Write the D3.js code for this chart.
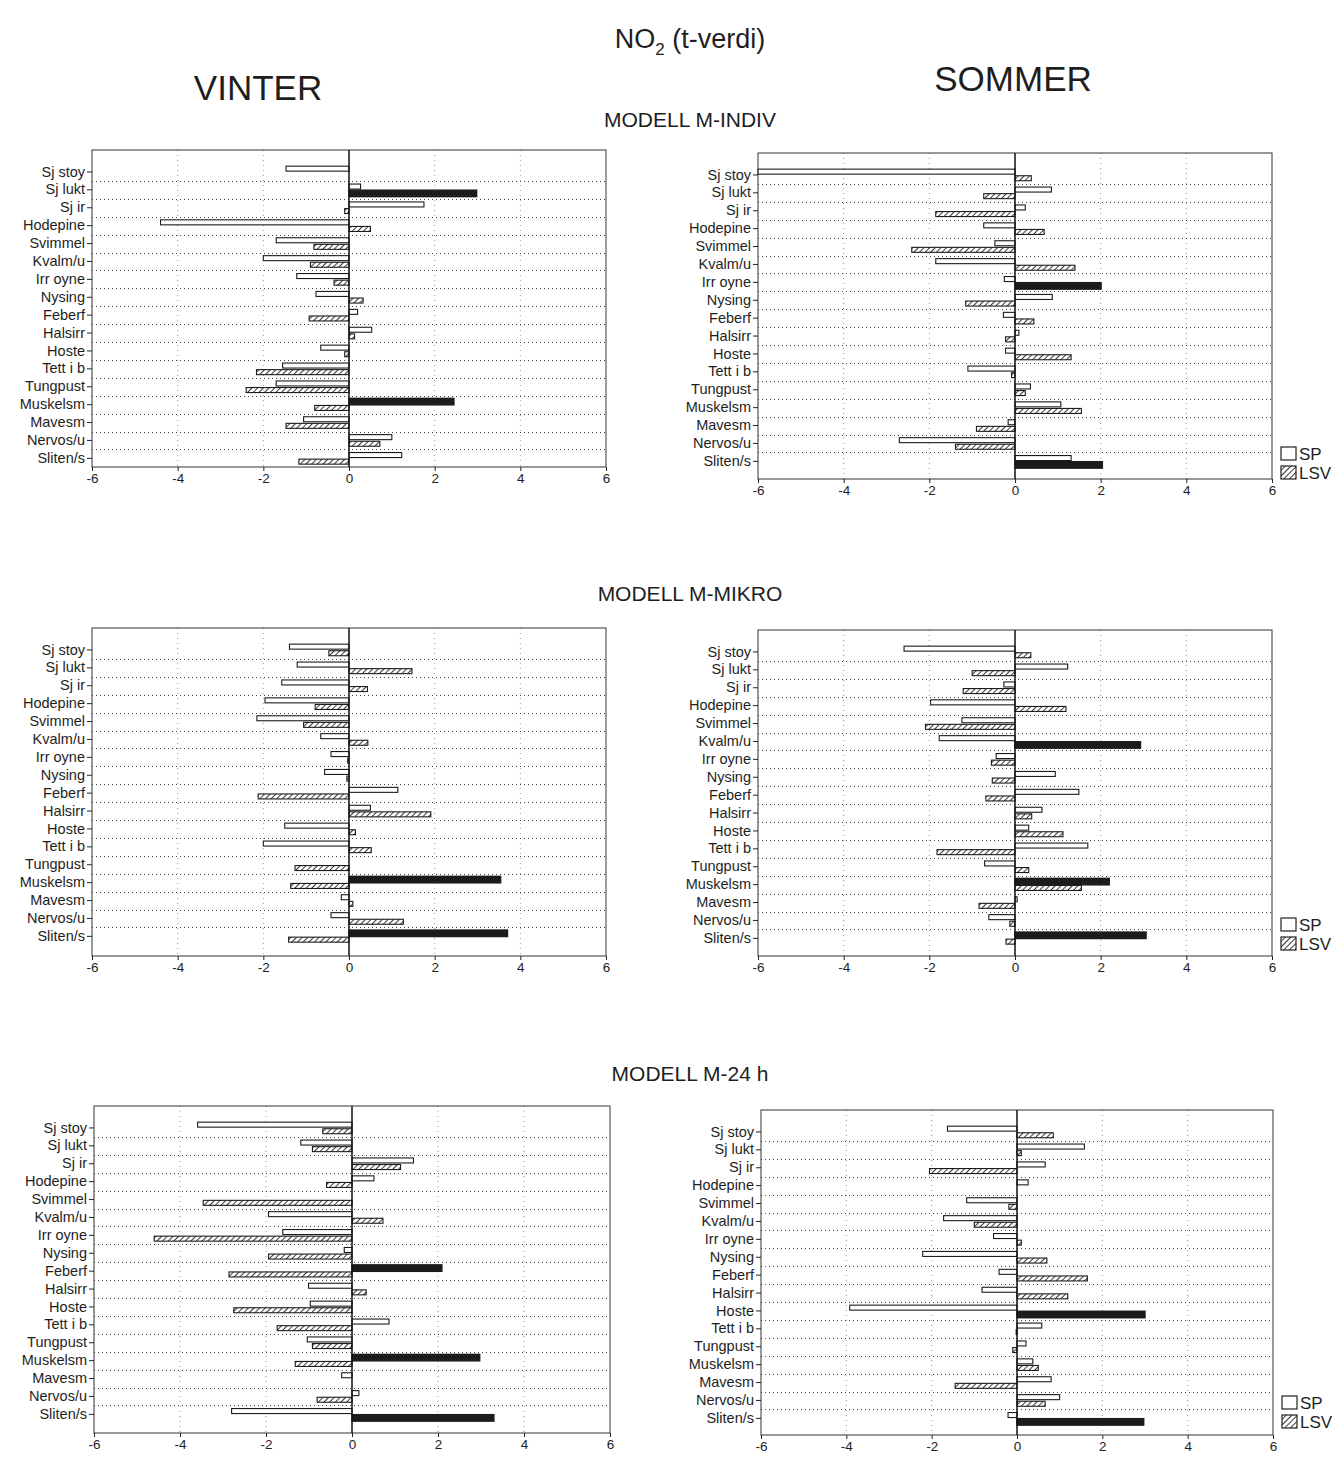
<!DOCTYPE html>
<html>
<head>
<meta charset="utf-8">
<script src="https://cdn.jsdelivr.net/npm/d3@7/dist/d3.min.js"></script>
<style>
  body { margin: 0; background: #fff; }
  svg { display: block; }
  text { font-family: "Liberation Sans", Arial, sans-serif; fill: #1e1e1e; }
</style>
</head>
<body>
<svg id="chart" width="1342" height="1458"></svg>
<script>
// Symptom categories (y axis), top to bottom
const categories = ["Sj stoy", "Sj lukt", "Sj ir", "Hodepine", "Svimmel", "Kvalm/u", "Irr oyne",
  "Nysing", "Feberf", "Halsirr", "Hoste", "Tett i b", "Tungpust", "Muskelsm", "Mavesm",
  "Nervos/u", "Sliten/s"];
const tickValues = [-6, -4, -2, 0, 2, 4, 6];
const seriesNames = ["SP", "LSV"];
const significance = 1.96;

// t-values, model M-INDIV
const vinterIndivSP  = [-1.47, 0.27, 1.75, -4.40, -1.70, -2.00, -1.22, -0.77, 0.20, 0.53, -0.66, -1.55, -1.70, 2.45, -1.06, 1.00, 1.23];
const vinterIndivLSV = [0.00, 2.98, -0.10, 0.50, -0.82, -0.90, -0.35, 0.33, -0.93, 0.13, -0.10, -2.16, -2.40, -0.80, -1.47, 0.72, -1.17];
const sommerIndivSP  = [-6.00, 0.85, 0.24, -0.73, -0.47, -1.85, -0.25, 0.87, -0.27, 0.09, -0.22, -1.10, 0.36, 1.07, -0.16, -2.70, 1.31];
const sommerIndivLSV = [0.38, -0.73, -1.85, 0.68, -2.41, 1.40, 2.01, -1.15, 0.44, -0.22, 1.31, -0.08, 0.24, 1.55, -0.90, -1.39, 2.04];

// t-values, model M-MIKRO
const vinterMikroSP  = [-1.39, -1.21, -1.57, -1.96, -2.15, -0.66, -0.42, -0.57, 1.14, 0.50, -1.50, -2.00, 0.00, 3.54, -0.18, -0.42, 3.70];
const vinterMikroLSV = [-0.47, 1.47, 0.43, -0.79, -1.06, 0.44, -0.03, -0.05, -2.12, 1.91, 0.15, 0.52, -1.26, -1.36, 0.09, 1.27, -1.41];
const sommerMikroSP  = [-2.59, 1.23, -0.26, -1.97, -1.24, -1.77, -0.44, 0.94, 1.49, 0.63, 0.32, 1.70, -0.71, 2.20, 0.05, -0.61, 3.06];
const sommerMikroLSV = [0.37, -1.00, -1.21, 1.19, -2.09, 2.93, -0.55, -0.53, -0.68, 0.39, 1.12, -1.82, 0.32, 1.55, -0.84, -0.12, -0.21];

// t-values, model M-24 h
const vinter24hSP  = [-3.59, -1.19, 1.43, 0.51, 0.00, -1.94, -1.61, -0.18, 2.09, -1.01, -0.97, 0.86, -1.04, 2.97, -0.24, 0.16, -2.80];
const vinter24hLSV = [-0.68, -0.92, 1.13, -0.59, -3.46, 0.72, -4.60, -1.94, -2.86, 0.33, -2.75, -1.74, -0.92, -1.32, 0.00, -0.81, 3.30];
const sommer24hSP  = [-1.63, 1.58, 0.66, 0.26, -1.18, -1.72, -0.55, -2.21, -0.42, -0.82, -3.92, 0.58, 0.21, 0.37, 0.80, 1.00, -0.21];
const sommer24hLSV = [0.85, 0.10, -2.05, 0.00, -0.19, -1.00, 0.10, 0.70, 1.65, 1.19, 3.00, -0.02, -0.10, 0.50, -1.45, 0.66, 2.97];

const svg = d3.select("#chart");
const defs = svg.append("defs");
defs.append("pattern")
    .attr("id", "hatch")
    .attr("patternUnits", "userSpaceOnUse")
    .attr("width", 4).attr("height", 4)
    .attr("patternTransform", "rotate(45)")
  .append("line")
    .attr("x1", 0).attr("y1", 0).attr("x2", 0).attr("y2", 4)
    .attr("stroke", "#222").attr("stroke-width", 1.8);

// Headings
const title = svg.append("text").attr("x", 690).attr("y", 48)
  .attr("text-anchor", "middle").style("font-size", "27px");
title.append("tspan").text("NO");
title.append("tspan").attr("dy", 7).style("font-size", "17px").text("2");
title.append("tspan").attr("dy", -7).text(" (t-verdi)");

svg.append("text").attr("x", 258).attr("y", 100).attr("text-anchor", "middle")
  .style("font-size", "35px").text("VINTER");
svg.append("text").attr("x", 1013).attr("y", 91).attr("text-anchor", "middle")
  .style("font-size", "35px").text("SOMMER");

const models = [
  { name: "MODELL M-INDIV", y: 127 },
  { name: "MODELL M-MIKRO", y: 601 },
  { name: "MODELL M-24 h",  y: 1081 }
];
models.forEach(m => svg.append("text").attr("x", 690).attr("y", m.y)
  .attr("text-anchor", "middle").style("font-size", "21px").text(m.name));

// Panel frames
const panels = [
  { sp: vinterIndivSP, lsv: vinterIndivLSV, x0: 92,  x1: 606,  top: 150,  bottom: 467 },
  { sp: sommerIndivSP, lsv: sommerIndivLSV, x0: 758, x1: 1272, top: 153,  bottom: 479, legendY: 447 },
  { sp: vinterMikroSP, lsv: vinterMikroLSV, x0: 92,  x1: 606,  top: 628,  bottom: 956 },
  { sp: sommerMikroSP, lsv: sommerMikroLSV, x0: 758, x1: 1272, top: 630,  bottom: 956, legendY: 918 },
  { sp: vinter24hSP,   lsv: vinter24hLSV,   x0: 94,  x1: 610,  top: 1106, bottom: 1433 },
  { sp: sommer24hSP,   lsv: sommer24hLSV,   x0: 761, x1: 1273, top: 1110, bottom: 1435, legendY: 1396 }
];

const step = 17.9;
const padTop = 13;

panels.forEach(p => {
  const g = svg.append("g");
  const x = d3.scaleLinear().domain([-6, 6]).range([p.x0, p.x1]);
  const y = d3.scaleBand().domain(categories)
    .range([p.top + padTop, p.top + padTop + step * categories.length]);
  const bottom = p.bottom;

  // vertical grid
  g.append("g").selectAll("line").data(tickValues.filter(t => t !== 0 && Math.abs(t) !== 6))
    .join("line")
    .attr("x1", d => x(d)).attr("x2", d => x(d))
    .attr("y1", p.top).attr("y2", bottom)
    .attr("stroke", "#9a9a9a").attr("stroke-width", 1).attr("stroke-dasharray", "1,4");

  // horizontal grid between categories
  g.append("g").selectAll("line").data(categories.slice(1))
    .join("line")
    .attr("x1", p.x0).attr("x2", p.x1)
    .attr("y1", d => Math.round(y(d)) + 0.5).attr("y2", d => Math.round(y(d)) + 0.5)
    .attr("stroke", "#444").attr("stroke-width", 1).attr("stroke-dasharray", "1,3");

  // frame
  g.append("rect").attr("x", p.x0).attr("y", p.top)
    .attr("width", p.x1 - p.x0).attr("height", bottom - p.top)
    .attr("fill", "none").attr("stroke", "#333").attr("stroke-width", 1);

  // bars
  const rows = categories.map((c, i) => ({ c, sp: p.sp[i], lsv: p.lsv[i] }));
  const barH = 5;
  const drawBars = (key, offset, baseFill) => {
    g.append("g").selectAll("rect").data(rows.filter(r => r[key] !== 0))
      .join("rect")
      .attr("x", d => x(Math.min(0, d[key])))
      .attr("width", d => Math.max(1, Math.abs(x(d[key]) - x(0))))
      .attr("y", d => {
        const strong = d[key] >= significance;
        return y(d.c) + y.bandwidth() / 2 + offset - (strong ? 0.5 : 0);
      })
      .attr("height", d => d[key] >= significance ? barH + 1.5 : barH)
      .attr("fill", d => d[key] >= significance ? "#1c1c1c" : baseFill)
      .attr("stroke", "#1c1c1c")
      .attr("stroke-width", d => d[key] >= significance ? 1.4 : 1.1);
  };
  drawBars("sp", -barH - 0.8, "#fff");
  drawBars("lsv", 0.8, "url(#hatch)");

  // zero line
  g.append("line").attr("x1", x(0)).attr("x2", x(0))
    .attr("y1", p.top).attr("y2", bottom)
    .attr("stroke", "#111").attr("stroke-width", 1.5);

  // category axis
  const yAxis = d3.axisLeft(y).tickSize(5).tickPadding(2);
  const ya = g.append("g").attr("transform", `translate(${p.x0},0)`).call(yAxis);
  ya.select(".domain").remove();
  ya.selectAll("line").attr("stroke", "#222");
  ya.selectAll("text").style("font-size", "14.5px").attr("fill", "#1e1e1e")
    .style("font-family", "'Liberation Sans', Arial, sans-serif");

  // value axis
  const xAxis = d3.axisBottom(x).tickValues(tickValues).tickSize(4).tickPadding(2)
    .tickFormat(d => String(d));
  const xa = g.append("g").attr("transform", `translate(0,${bottom})`).call(xAxis);
  xa.select(".domain").remove();
  xa.selectAll("line").attr("stroke", "#222");
  xa.selectAll("text").style("font-size", "13.5px").attr("fill", "#1e1e1e")
    .style("font-family", "'Liberation Sans', Arial, sans-serif");

  // legend
  if (p.legendY !== undefined) {
    const lg = g.append("g").attr("transform", `translate(${p.x1 + 9},${p.legendY})`);
    seriesNames.forEach((name, i) => {
      lg.append("rect").attr("x", 0).attr("y", i * 19)
        .attr("width", 15).attr("height", 13)
        .attr("fill", i === 0 ? "#fff" : "url(#hatch)")
        .attr("stroke", "#222").attr("stroke-width", 1.2);
      lg.append("text").attr("x", 18).attr("y", i * 19 + 13)
        .style("font-size", "17px").text(name);
    });
  }
});
</script>
</body>
</html>
